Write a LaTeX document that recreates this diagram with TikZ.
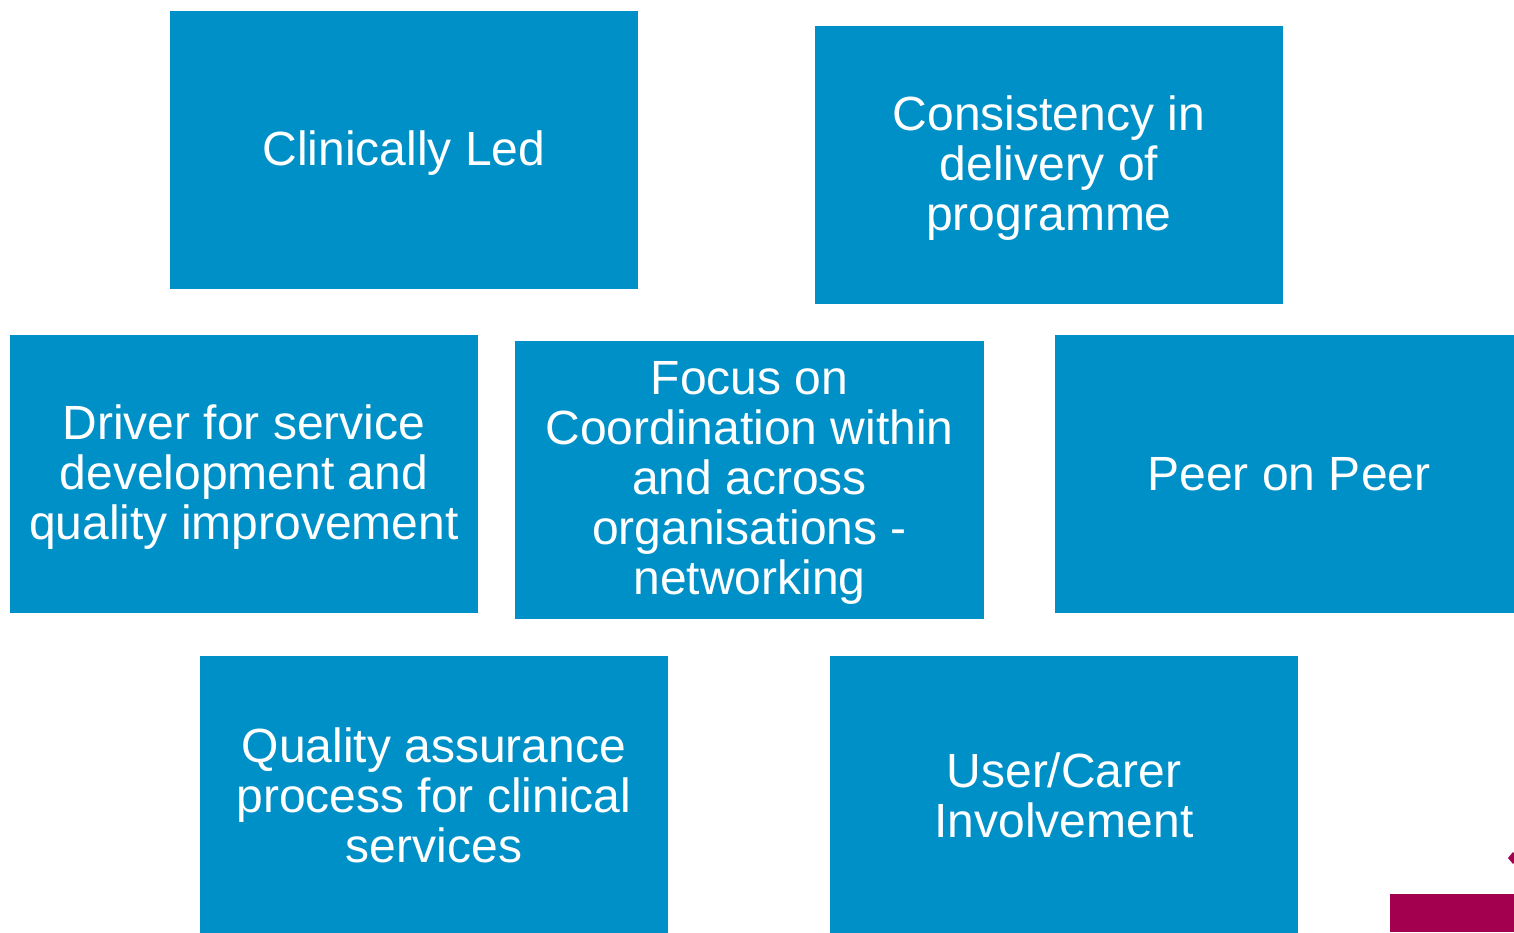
\documentclass[tikz,border=0pt]{standalone}
\usepackage{fontspec}
\setmainfont{Liberation Sans}
\definecolor{tileblue}{RGB}{0,144,200}
\definecolor{berry}{RGB}{163,0,80}
\begin{document}
\begin{tikzpicture}[x=1pt,y=-1pt,
  tile/.style={fill=tileblue, draw=none, text=white, align=center,
    minimum width=468pt, minimum height=278pt, inner sep=0pt,
    font=\fontsize{48}{50}\selectfont},
  low/.style={yshift=-3pt}]
\useasboundingbox (0,0) rectangle (1514,932);
\clip (0,0) rectangle (1514,932);
\fill[white] (0,0) rectangle (1514,932);

% top row
\fill[tileblue] (170,11) rectangle (638,289);
\node[tile, low, fill=none] (clin) at (404,150) {Clinically Led};
\fill[tileblue] (815,26) rectangle (1283,304);
\node[tile, low, fill=none] (cons) at (1049,165) {Consistency in\\delivery of\\programme};

% middle row
\fill[tileblue] (10,335) rectangle (478,613);
\node[tile, low, fill=none] (driver) at (244,474) {Driver for service\\development and\\quality improvement};
\fill[tileblue] (515,341) rectangle (984,619);
\node[tile, low, fill=none] (focus) at (749.5,480) {Focus on\\Coordination within\\and across\\organisations -\\networking};
\node[tile] (peer) at (1289,474) {Peer on Peer};

% bottom row
\node[tile] (qa) at (434,795) {Quality assurance\\process for clinical\\services};
\node[tile] (user) at (1064,795) {User/Carer\\Involvement};

% corner accents
\fill[berry] (1390,894) rectangle (1514,932);
\fill[berry] (1508,858) -- (1513,852) -- (1518,858) -- (1513,864) -- cycle;
\end{tikzpicture}
\end{document}
